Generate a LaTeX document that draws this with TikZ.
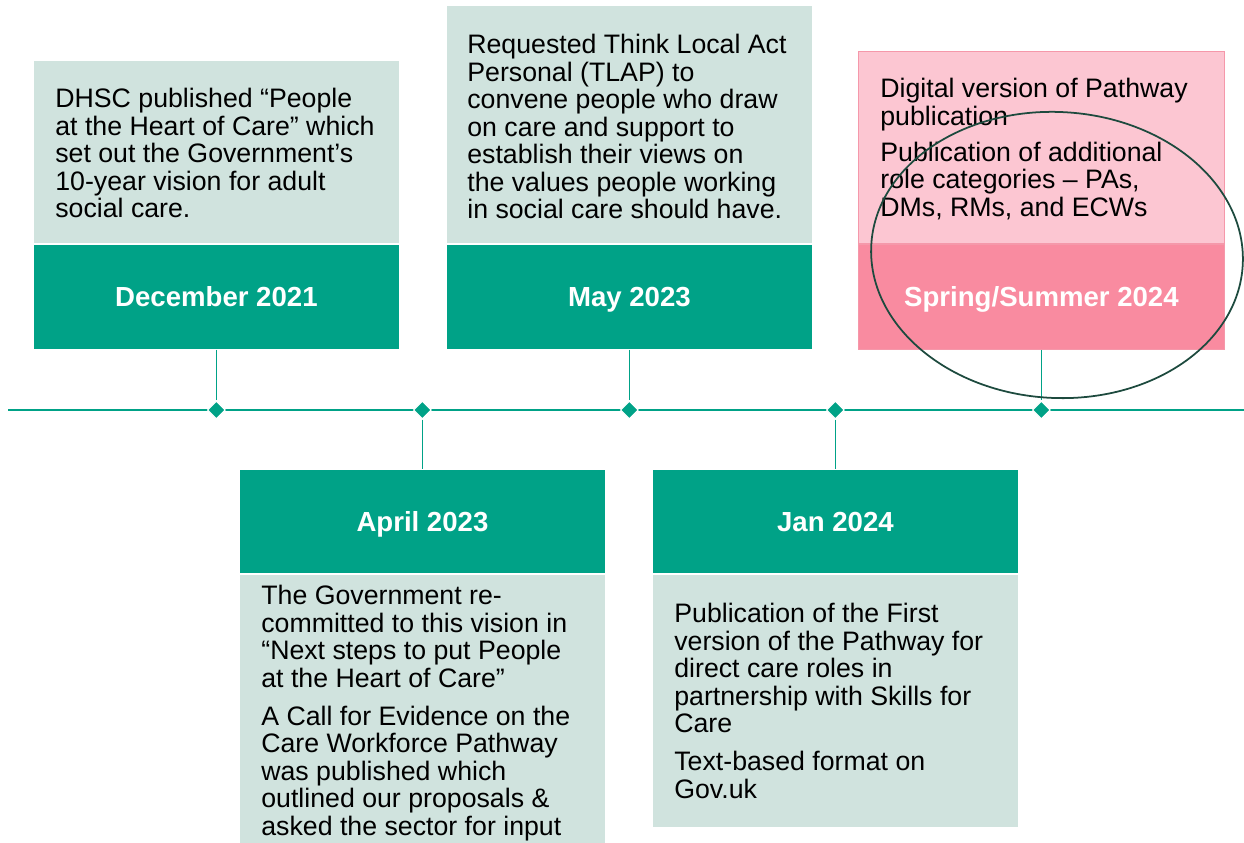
\documentclass[tikz,border=0pt]{standalone}
\usepackage{fontspec}
\setmainfont{Liberation Sans}
\usetikzlibrary{shapes.geometric}
\definecolor{tealdark}{HTML}{00A287}
\definecolor{teallight}{HTML}{D0E3DE}
\definecolor{pinkdark}{HTML}{F98BA0}
\definecolor{pinklight}{HTML}{FCC6D2}
\definecolor{pinkline}{HTML}{F598AA}
\definecolor{ringgreen}{HTML}{1D4A3E}
\tikzset{
  datebox/.style={fill=tealdark, draw=white, line width=0.5pt, minimum width=7.32cm, minimum height=2.1cm, text=white, text height=11.2pt, text depth=0pt, font=\fontsize{15.7}{16}\selectfont\bfseries},
  notebox/.style={fill=teallight, draw=white, line width=0.5pt, minimum width=7.32cm},
  notetext/.style={anchor=north west, inner sep=0pt, align=left, font=\fontsize{15.2}{15.65}\selectfont},
  stone/.style={diamond, fill=tealdark, draw=white, line width=0.6pt, minimum size=0.36cm, inner sep=0pt},
  stem/.style={tealdark, line width=0.6pt}
}
\begin{document}
\begin{tikzpicture}
\useasboundingbox (0,0) rectangle (24.88,16.86);

\node [datebox, anchor=south west] (dec) at (0.66,9.86) {December 2021};
\node [notebox, anchor=south west, minimum height=3.66cm] (decnote) at (dec.north west) {};
\node [datebox, anchor=south west] (may) at (8.92,9.86) {May 2023};
\node [notebox, anchor=south west, minimum height=4.76cm] (maynote) at (may.north west) {};
\node [datebox, anchor=south west, fill=pinkdark, draw=pinkline] (spring) at (17.16,9.86) {Spring/Summer 2024};
\node [notebox, anchor=south west, fill=pinklight, draw=pinkline, minimum height=3.84cm] (springnote) at (spring.north west) {};

\node [datebox, anchor=south west, minimum height=2.08cm] (apr) at (4.78,5.38) {April 2023};
\node [notebox, anchor=north west, minimum height=5.38cm] (aprnote) at (apr.south west) {};
\node [datebox, anchor=south west, minimum height=2.08cm] (jan) at (13.04,5.38) {Jan 2024};
\node [notebox, anchor=north west, minimum height=5.06cm] (jannote) at (jan.south west) {};

\node [notetext] (dectext) at (1.10,15.10) {DHSC published “People\\at the Heart of Care” which\\set out the Government’s\\10-year vision for adult\\social care.};
\node [notetext] (maytext) at (9.34,16.18) {Requested Think Local Act\\Personal (TLAP) to\\convene people who draw\\on care and support to\\establish their views on\\the values people working\\in social care should have.};
\node [notetext] (springtext) at (17.60,15.30) {Digital version of Pathway\\publication\\[5pt]Publication of additional\\role categories – PAs,\\DMs, RMs, and ECWs};
\node [notetext] (aprtext) at (5.22,5.16) {The Government re-\\committed to this vision in\\“Next steps to put People\\at the Heart of Care”\\[6pt]A Call for Evidence on the\\Care Workforce Pathway\\was published which\\outlined our proposals \&\\asked the sector for input};
\node [notetext] (jantext) at (13.48,4.80) {Publication of the First\\version of the Pathway for\\direct care roles in\\partnership with Skills for\\Care\\[6pt]Text-based format on\\Gov.uk};

\coordinate (tlstart) at (0.16,8.66);
\coordinate (tlend) at (24.88,8.66);
\draw [tealdark, line width=1.3pt] (tlstart) -- (tlend);
\node [stone] (d1) at (dec.south |- tlstart) {};
\node [stone] (d2) at (apr.north |- tlstart) {};
\node [stone] (d3) at (may.south |- tlstart) {};
\node [stone] (d4) at (jan.north |- tlstart) {};
\node [stone] (d5) at (spring.south |- tlstart) {};
\draw [stem] (dec.south) -- (d1.north);
\draw [stem] (d2.south) -- (apr.north);
\draw [stem] (may.south) -- (d3.north);
\draw [stem] (d4.south) -- (jan.north);
\draw [stem] (spring.south) -- (d5.north);

\node [ellipse, draw=ringgreen, line width=1pt, minimum width=7.44cm, minimum height=5.72cm, rotate=-3] (ring) at (21.14,11.76) {};
\end{tikzpicture}
\end{document}
